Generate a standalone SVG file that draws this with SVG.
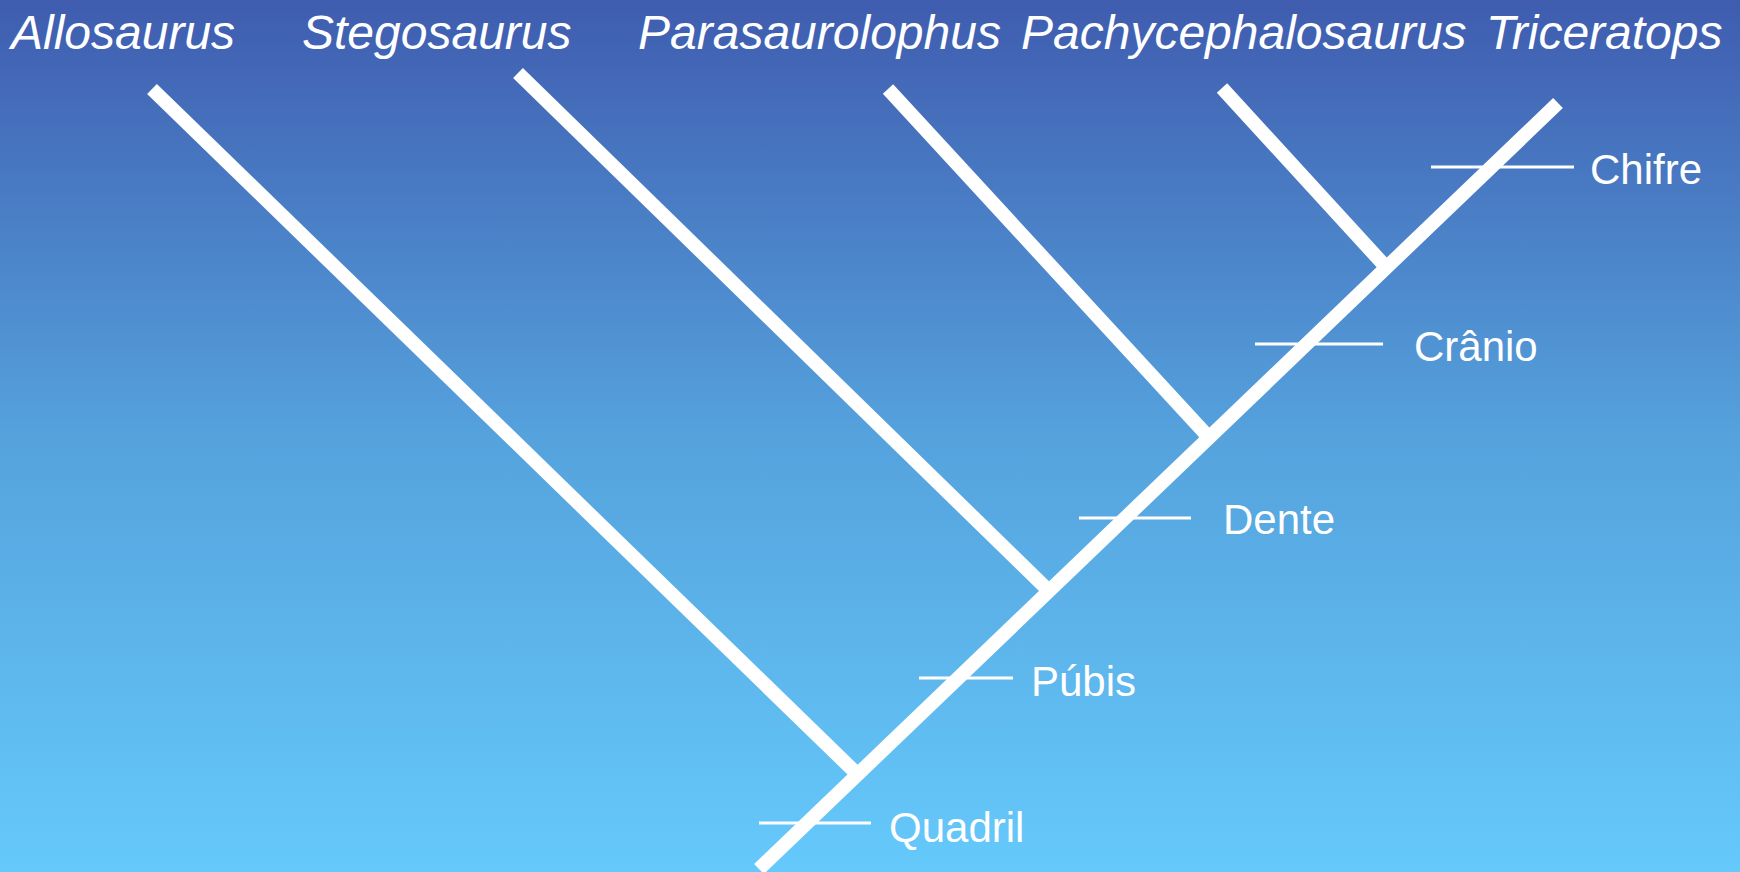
<svg xmlns="http://www.w3.org/2000/svg" width="1740" height="872" viewBox="0 0 1740 872">
<defs>
<linearGradient id="bg" x1="0" y1="0" x2="0" y2="1">
<stop offset="0" stop-color="#3F5CAF"/>
<stop offset="0.5" stop-color="#55A2DD"/>
<stop offset="1" stop-color="#65C9FB"/>
</linearGradient>
<style>
.taxon{font-family:"Liberation Sans",Arial,sans-serif;font-style:italic;font-size:48px;fill:#fff}
.trait{font-family:"Liberation Sans",Arial,sans-serif;font-size:42px;fill:#fff}
.branch{stroke:#fff;stroke-width:14;fill:none;stroke-linecap:butt}
.tick{stroke:#fff;stroke-width:3;fill:none}
</style>
</defs>
<rect x="0" y="0" width="1740" height="872" fill="url(#bg)"/>
<g id="taxa">
<g id="allosaurus"><text class="taxon" x="11" y="49">Allosaurus</text></g>
<g id="stegosaurus"><text class="taxon" x="302" y="49">Stegosaurus</text></g>
<g id="parasaurolophus"><text class="taxon" x="638" y="49">Parasaurolophus</text></g>
<g id="pachycephalosaurus"><text class="taxon" x="1021" y="49">Pachycephalosaurus</text></g>
<g id="triceratops"><text class="taxon" x="1486" y="49">Triceratops</text></g>
</g>
<g id="connectors">
<line class="branch" x1="759" y1="869" x2="1558" y2="103"/>
<line class="branch" x1="152" y1="89" x2="857.6" y2="774.5"/>
<line class="branch" x1="518" y1="73" x2="1049" y2="591"/>
<line class="branch" x1="888" y1="89" x2="1209" y2="437.6"/>
<line class="branch" x1="1222" y1="88" x2="1386.4" y2="267.5"/>
</g>
<g id="traits">
<g id="chifre"><line class="tick" x1="1431" y1="167" x2="1574" y2="167"/><text class="trait" x="1590" y="184">Chifre</text></g>
<g id="cranio"><line class="tick" x1="1255" y1="344" x2="1383" y2="344"/><text class="trait" x="1414" y="361">Crânio</text></g>
<g id="dente"><line class="tick" x1="1079" y1="518" x2="1191" y2="518"/><text class="trait" x="1223" y="534">Dente</text></g>
<g id="pubis"><line class="tick" x1="919" y1="678" x2="1013" y2="678"/><text class="trait" x="1031" y="696">Púbis</text></g>
<g id="quadril"><line class="tick" x1="759" y1="823" x2="871" y2="823"/><text class="trait" x="889" y="842">Quadril</text></g>
</g>
</svg>
